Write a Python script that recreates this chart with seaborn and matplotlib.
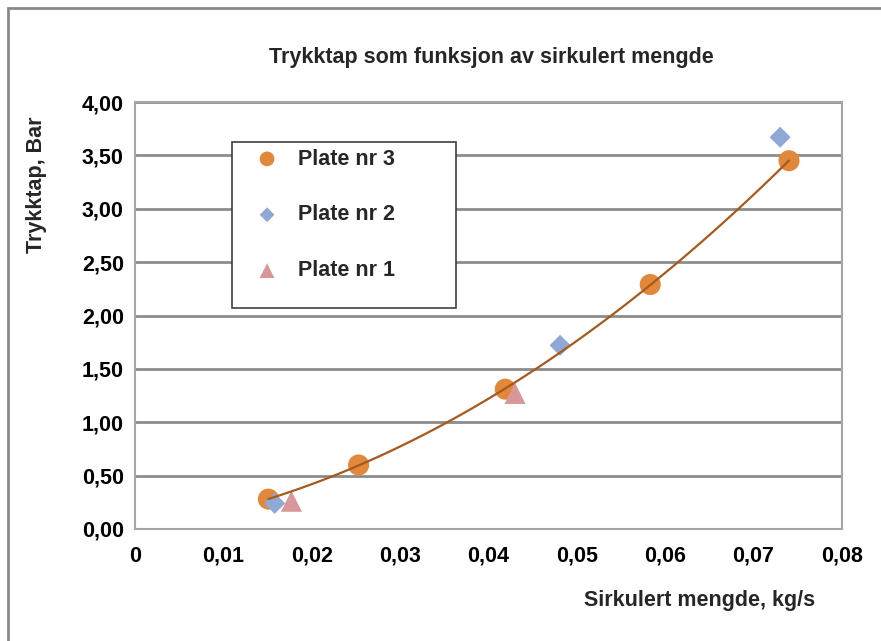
import numpy as np
import pandas as pd
import matplotlib
matplotlib.use("Agg")
import matplotlib.pyplot as plt
import seaborn as sns
from matplotlib.ticker import FuncFormatter
from matplotlib.patches import Rectangle

# Data
plate3_x = [0.0151, 0.0253, 0.0419, 0.0583, 0.0740]
plate3_y = [0.28, 0.60, 1.31, 2.29, 3.45]
plate2_x = [0.0158, 0.0481, 0.0730]
plate2_y = [0.24, 1.72, 3.67]
plate1_x = [0.0177, 0.0430]
plate1_y = [0.26, 1.27]

title = "Trykktap som funksjon av sirkulert mengde"
xlabel = "Sirkulert mengde, kg/s"
ylabel = "Trykktap, Bar"

sns.set_style("white")
plt.rcParams['font.family'] = ['Liberation Sans', 'DejaVu Sans']
plt.rcParams['font.weight'] = 'bold'

c3 = '#E2883A'
c2 = '#8FA8D5'
c1 = '#D9979A'
c_line = '#A65A1C'
fs = 15.5

df3 = pd.DataFrame({'x': plate3_x, 'y': plate3_y})
df2 = pd.DataFrame({'x': plate2_x, 'y': plate2_y})
df1 = pd.DataFrame({'x': plate1_x, 'y': plate1_y})

fig = plt.figure(figsize=(8.81, 6.41), dpi=100)
ax = fig.add_axes([135/881, 1-529/641, 707/881, 427/641])

# outer chart frame
fig.patches.append(Rectangle((8/881, -0.1), 1.2, 1-8/641+0.1, transform=fig.transFigure,
                             fill=False, edgecolor='#8a8a8a', linewidth=2.0))

sns.scatterplot(data=df3, x='x', y='y', ax=ax, marker='o', s=230, color=c3,
                edgecolor='none', label='Plate nr 3', zorder=3)
sns.scatterplot(data=df2, x='x', y='y', ax=ax, marker='D', s=115, color=c2,
                edgecolor='none', label='Plate nr 2', zorder=4)
sns.scatterplot(data=df1, x='x', y='y', ax=ax, marker='^', s=230, color=c1,
                edgecolor='none', label='Plate nr 1', zorder=5)

# trendline through plate 3 (2nd order, like the Excel trendline)
sns.regplot(data=df3, x='x', y='y', ax=ax, order=2, ci=None, scatter=False,
            line_kws={'color': c_line, 'linewidth': 1.6, 'zorder': 6})

ax.set_xlim(0, 0.08)
ax.set_ylim(0, 4.0)
ax.set_xticks(np.arange(0, 0.081, 0.01))
ax.set_yticks(np.arange(0, 4.01, 0.5))
ax.xaxis.set_major_formatter(FuncFormatter(lambda v, p: '0' if abs(v) < 1e-9 else f"{v:.2f}".replace('.', ',')))
ax.yaxis.set_major_formatter(FuncFormatter(lambda v, p: f"{v:.2f}".replace('.', ',')))
ax.tick_params(axis='both', labelsize=fs, colors='black')
ax.tick_params(axis='y', length=4, width=1, color='#888888', pad=4)
ax.tick_params(axis='x', length=0, pad=12)
for lab in ax.get_xticklabels() + ax.get_yticklabels():
    lab.set_fontweight('bold')

ax.grid(axis='y', color='#8c8c8c', linewidth=2.0)
ax.grid(axis='x', visible=False)
for sp in ax.spines.values():
    sp.set_visible(True)
    sp.set_color('#a6a6a6')
    sp.set_linewidth(1.5)

ax.set_xlabel(xlabel, fontsize=fs, fontweight='bold')
ax.xaxis.set_label_coords((700-135)/707, -(590-529)/427)
ax.set_ylabel(ylabel, fontsize=fs, fontweight='bold')
ax.yaxis.set_label_coords(-(135-47)/707, (529-185)/427)

fig.text(491/881, 1-58/641, title, ha='center', va='center', fontsize=fs, fontweight='bold')

# legend box (Excel leaves extra room below the last entry)
ax.add_patch(Rectangle((97/707, (529-308)/427), 224/707, 166/427, transform=ax.transAxes,
                       facecolor='white', edgecolor='#404040', linewidth=1.2, zorder=7))
leg = ax.legend(loc='upper left', bbox_to_anchor=(103/707, (529-141)/427),
                frameon=False, fontsize=fs, labelspacing=1.62, borderpad=0.35,
                handletextpad=0.45, borderaxespad=0, markerscale=0.7, handlelength=2.0)
leg.set_zorder(8)
for t in leg.get_texts():
    t.set_fontweight('bold')

fig.savefig('out.png', dpi=100)
